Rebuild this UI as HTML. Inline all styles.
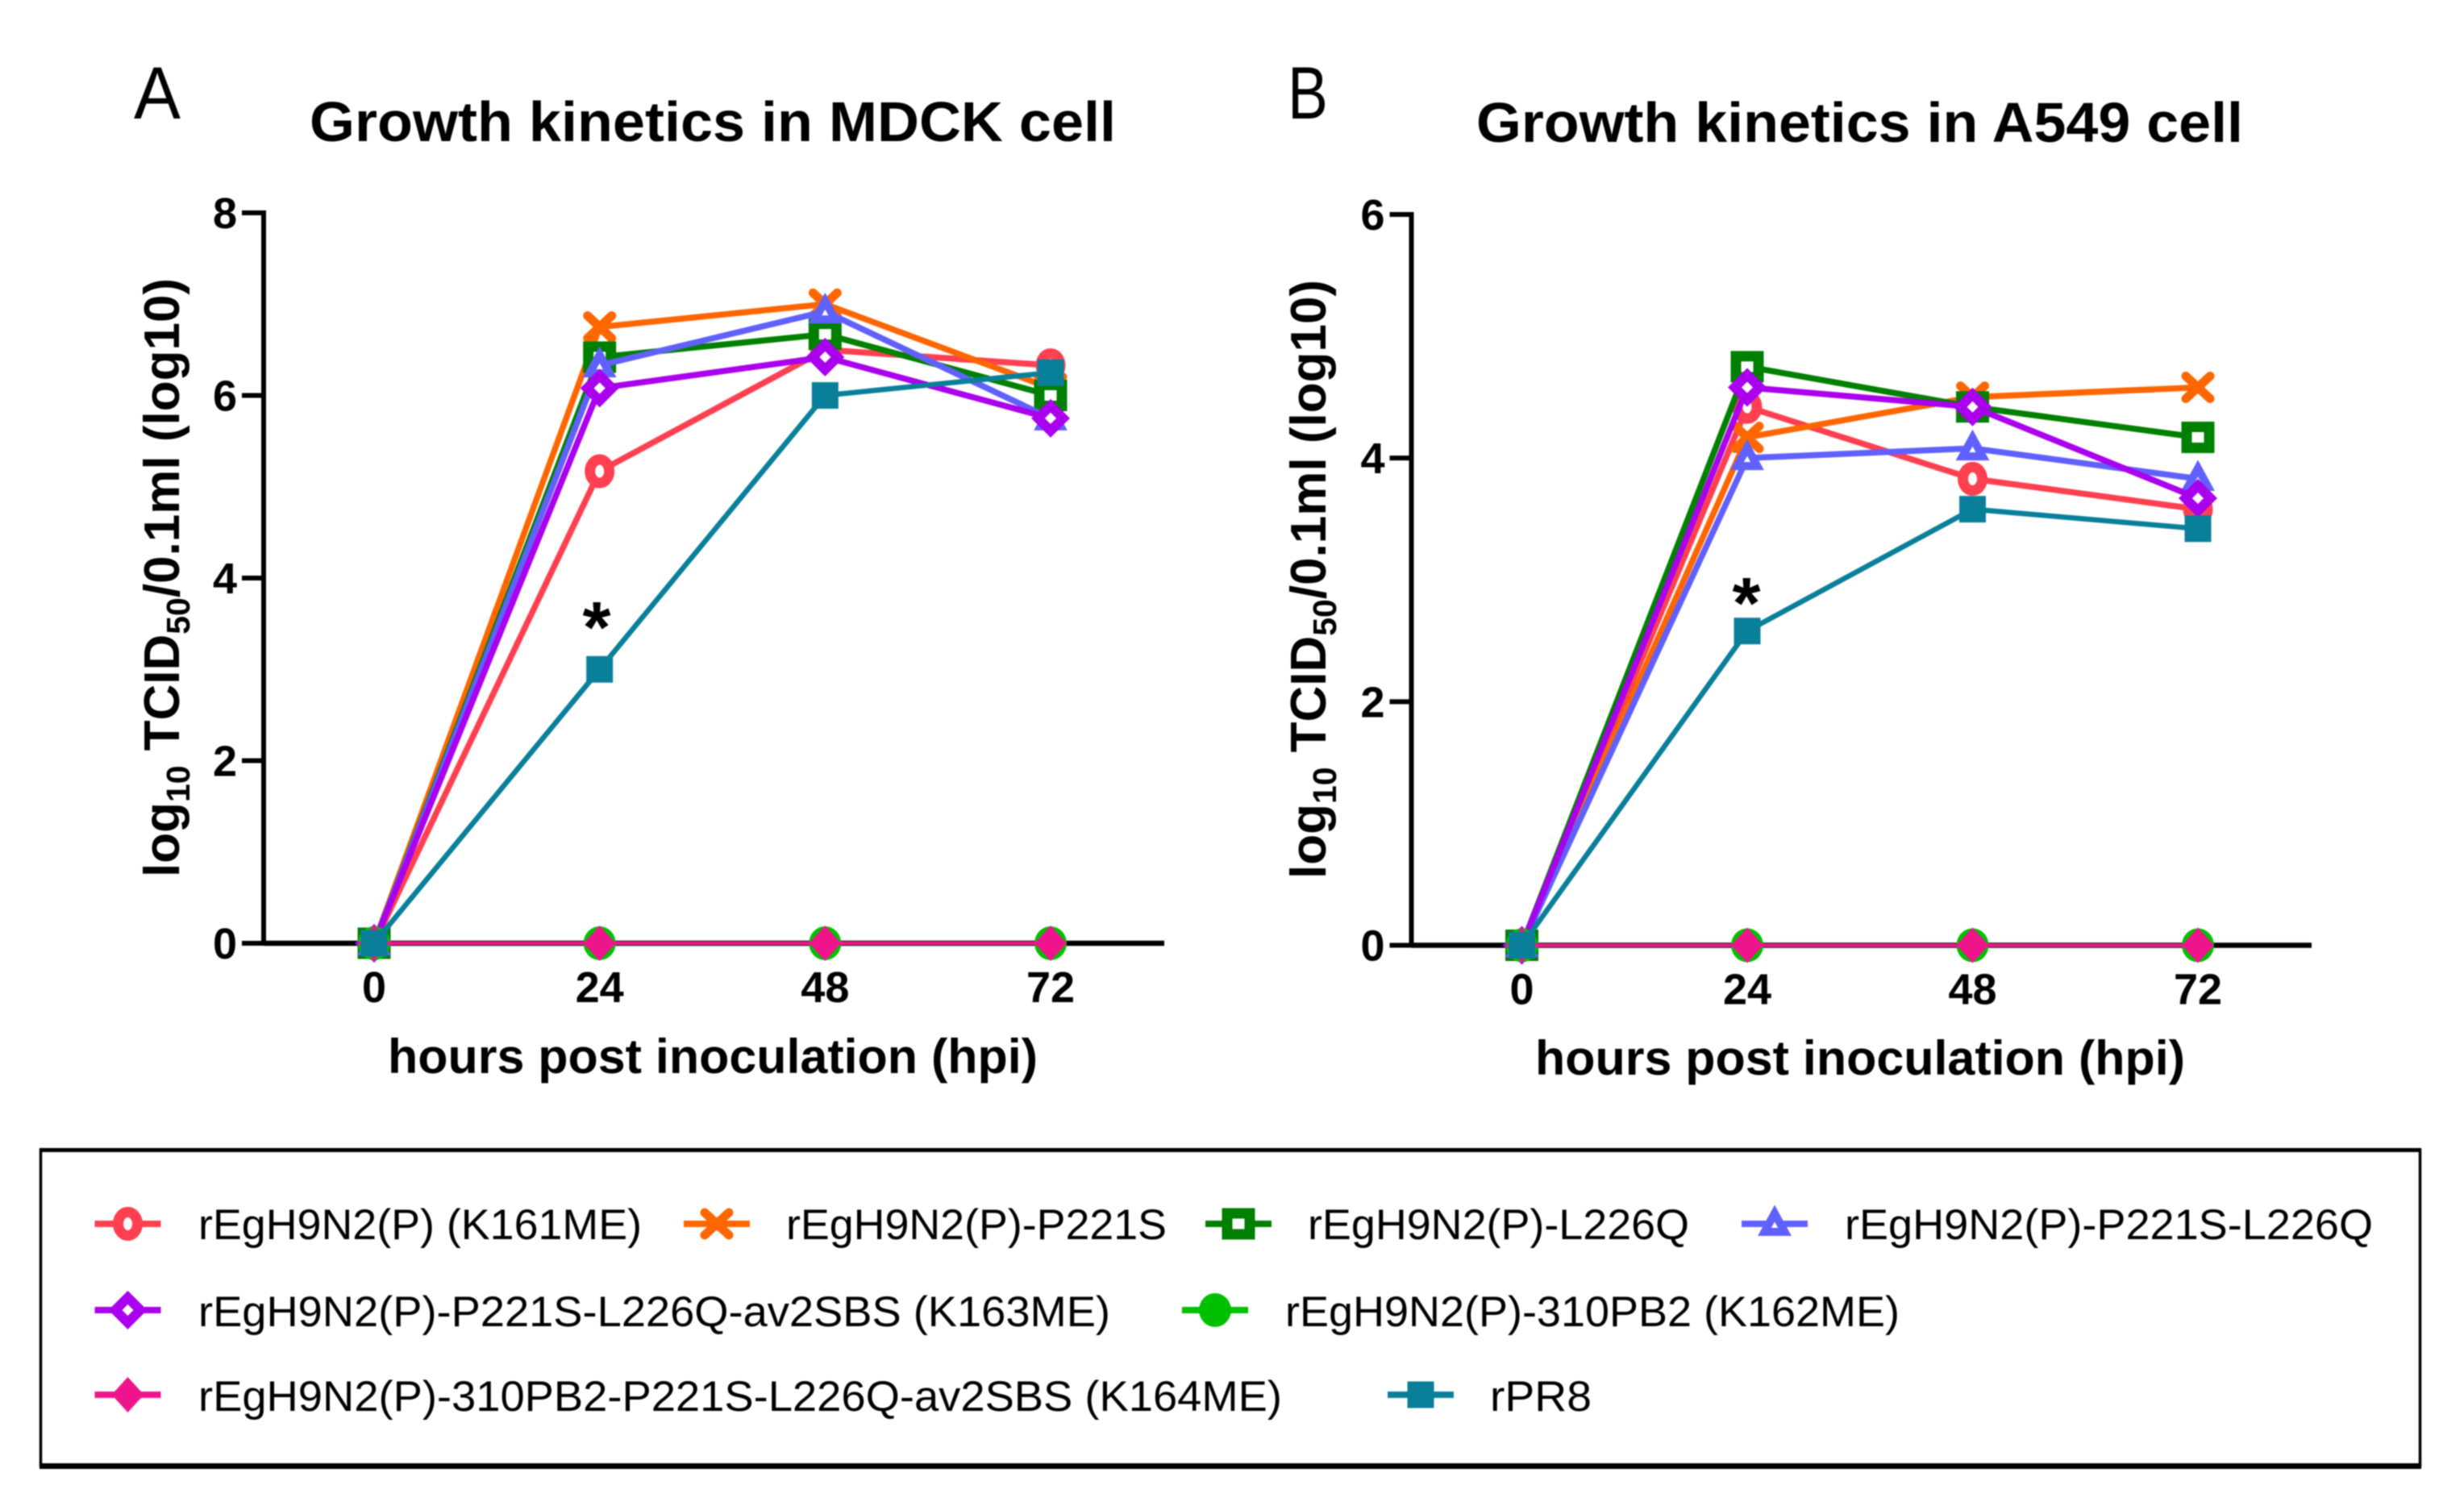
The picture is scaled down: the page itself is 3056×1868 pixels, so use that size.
<!DOCTYPE html>
<html lang="en">
<head>
<meta charset="utf-8">
<title>Growth kinetics</title>
<style>
html,body{margin:0;padding:0;background:#fff;width:3056px;height:1868px;overflow:hidden}
svg{position:absolute;left:0;top:0;filter:blur(.7px)}
text{font-family:"Liberation Sans",Arial,sans-serif;fill:#000}
.b{font-weight:bold}
</style>
</head>
<body>
<svg id="root" xmlns="http://www.w3.org/2000/svg" width="3056" height="1868" viewBox="0 0 3056 1868">
  <rect x="0" y="0" width="3056" height="1868" fill="#fff"/>

  <text x="166" y="147" font-size="92" textLength="58" lengthAdjust="spacingAndGlyphs">A</text>
  <text x="1597" y="147" font-size="92" textLength="50" lengthAdjust="spacingAndGlyphs">B</text>

  <text class="b" x="384" y="175" font-size="69.5" textLength="1000" lengthAdjust="spacingAndGlyphs">Growth kinetics in MDCK cell</text>
  <text class="b" x="1831" y="176" font-size="69.5" textLength="951" lengthAdjust="spacingAndGlyphs">Growth kinetics in A549 cell</text>

  <text class="b" transform="translate(222,1088) rotate(-90)" font-size="62">log<tspan font-size="41" dy="13">10</tspan><tspan dx="18" dy="-13">TCID</tspan><tspan font-size="41" dy="13">50</tspan><tspan dy="-13">/0.1ml (log10)</tspan></text>
  <text class="b" transform="translate(1644,1090) rotate(-90)" font-size="62">log<tspan font-size="41" dy="13">10</tspan><tspan dx="18" dy="-13">TCID</tspan><tspan font-size="41" dy="13">50</tspan><tspan dy="-13">/0.1ml (log10)</tspan></text>

  <text class="b" x="481" y="1331" font-size="60" textLength="806" lengthAdjust="spacingAndGlyphs">hours post inoculation (hpi)</text>
  <text class="b" x="1904" y="1333" font-size="60" textLength="806" lengthAdjust="spacingAndGlyphs">hours post inoculation (hpi)</text>

  <g id="panelA"></g>
  <g id="panelB"></g>

  <text class="b" x="740" y="809" font-size="90" text-anchor="middle">*</text>
  <text class="b" x="2166" y="779" font-size="90" text-anchor="middle">*</text>

  <g>
    <rect x="50.5" y="1426.5" width="2951" height="392" fill="none" stroke="#000" stroke-width="3.5"/>
    <line x1="49" x2="3003" y1="1426.5" y2="1426.5" stroke="#000" stroke-width="5"/>
    <line x1="49" x2="3003" y1="1818.5" y2="1818.5" stroke="#000" stroke-width="7"/>
    <g id="lg0"><text x="246" y="1537" font-size="53" textLength="550" lengthAdjust="spacingAndGlyphs">rEgH9N2(P) (K161ME)</text></g>
    <g id="lg1"><text x="975" y="1537" font-size="53" textLength="472" lengthAdjust="spacingAndGlyphs">rEgH9N2(P)-P221S</text></g>
    <g id="lg2"><text x="1622" y="1537" font-size="53" textLength="473" lengthAdjust="spacingAndGlyphs">rEgH9N2(P)-L226Q</text></g>
    <g id="lg3"><text x="2288" y="1537" font-size="53" textLength="655" lengthAdjust="spacingAndGlyphs">rEgH9N2(P)-P221S-L226Q</text></g>
    <g id="lg4"><text x="246" y="1645" font-size="53" textLength="1131" lengthAdjust="spacingAndGlyphs">rEgH9N2(P)-P221S-L226Q-av2SBS (K163ME)</text></g>
    <g id="lg5"><text x="1594" y="1645" font-size="53" textLength="762" lengthAdjust="spacingAndGlyphs">rEgH9N2(P)-310PB2 (K162ME)</text></g>
    <g id="lg6"><text x="246" y="1750" font-size="53" textLength="1344" lengthAdjust="spacingAndGlyphs">rEgH9N2(P)-310PB2-P221S-L226Q-av2SBS (K164ME)</text></g>
    <g id="lg7"><text x="1848" y="1750" font-size="53" textLength="126" lengthAdjust="spacingAndGlyphs">rPR8</text></g>
  </g>
</svg>
<script>
// ---- chart data ----
const hours = [0, 24, 48, 72];
const xTickLabels = ['0', '24', '48', '72'];
const yTicksMdck = [0, 2, 4, 6, 8];
const yTicksA549 = [0, 2, 4, 6];

const mdckK161 = [0, 5.17, 6.5, 6.33];
const mdckP221S = [0, 6.75, 7.0, 6.08];
const mdckL226Q = [0, 6.42, 6.67, 6.0];
const mdckP221SL226Q = [0, 6.33, 6.92, 5.75];
const mdckK163 = [0, 6.08, 6.42, 5.75];
const mdckK162 = [0, 0, 0, 0];
const mdckK164 = [0, 0, 0, 0];
const mdckPR8 = [0, 3.0, 6.0, 6.25];

const a549K161 = [0, 4.42, 3.83, 3.58];
const a549P221S = [0, 4.17, 4.5, 4.58];
const a549L226Q = [0, 4.75, 4.42, 4.17];
const a549P221SL226Q = [0, 4.0, 4.08, 3.83];
const a549K163 = [0, 4.58, 4.42, 3.67];
const a549K162 = [0, 0, 0, 0];
const a549K164 = [0, 0, 0, 0];
const a549PR8 = [0, 2.58, 3.58, 3.42];

const seriesKeys = ['k161me', 'p221s', 'l226q', 'p221s-l226q', 'k163me', 'k162me', 'k164me', 'rpr8'];

// ---- styling ----
const seriesColors = ['#FF4050', '#FF6600', '#008000', '#6060FF', '#AA00EE', '#00C000', '#F0148C', '#0A7F9A'];
const seriesMarkers = ['circle', 'cross', 'square', 'triangle', 'diamond', 'disc', 'solidDiamond', 'solidSquare'];
const seriesLineWidths = [7.5, 7.5, 7.5, 7.5, 7.5, 4.5, 4.5, 6.5];
const NS = 'http://www.w3.org/2000/svg';

function mk(tag, attrs) {
  const el = document.createElementNS(NS, tag);
  for (const k in attrs) el.setAttribute(k, attrs[k]);
  return el;
}

function drawMarker(parent, kind, color, cx, cy, name) {
  const g = mk('g', {transform: 'translate(' + cx + ',' + cy + ')'});
  
  
  if (kind === 'circle') {
    g.appendChild(mk('ellipse', {rx: 12, ry: 14.5, fill: '#fff', stroke: color, 'stroke-width': 13}));
  } else if (kind === 'cross') {
    g.appendChild(mk('path', {d: 'M-15,-14L15,14M15,-14L-15,14', fill: 'none', stroke: color, 'stroke-width': 11, 'stroke-linecap': 'round'}));
  } else if (kind === 'square') {
    g.appendChild(mk('rect', {x: -14, y: -13, width: 28, height: 26, fill: '#fff', stroke: color, 'stroke-width': 13}));
  } else if (kind === 'triangle') {
    g.appendChild(mk('polygon', {points: '0,-13 12.5,10 -12.5,10', fill: '#fff', stroke: color, 'stroke-width': 10}));
  } else if (kind === 'diamond') {
    g.appendChild(mk('polygon', {points: '0,-15.5 15.5,0 0,15.5 -15.5,0', fill: '#fff', stroke: color, 'stroke-width': 12}));
  } else if (kind === 'disc') {
    g.appendChild(mk('ellipse', {rx: 20, ry: 21, fill: color}));
  } else if (kind === 'solidDiamond') {
    g.appendChild(mk('polygon', {points: '0,-22 20,0 0,22 -20,0', fill: color}));
  } else {
    g.appendChild(mk('rect', {x: -16.5, y: -16.5, width: 33, height: 33, fill: color}));
  }
  parent.appendChild(g);
}

function drawPanel(panelId, prefix, x0, x72, yBase, yTop, yMax, yTicks, seriesValues) {
  const root = document.getElementById(panelId);
  const xScale = h => x0 + h * (x72 - x0) / hours[hours.length - 1];
  const yScale = v => yBase - v * (yBase - yTop) / yMax;
  const axisX = x0 - 137;
  const axisEnd = x72 + 141;

  const yAxis = mk('line', {x1: axisX, x2: axisX, y1: yTop - 3, y2: yBase + 3, stroke: '#000', 'stroke-width': 6});
  
  
  root.appendChild(yAxis);

  const xAxis = mk('line', {x1: axisX, x2: axisEnd, y1: yBase, y2: yBase, stroke: '#000', 'stroke-width': 6.5});
  
  
  root.appendChild(xAxis);

  yTicks.forEach(t => {
    const tick = mk('line', {x1: axisX - 27, x2: axisX, y1: yScale(t), y2: yScale(t), stroke: '#000', 'stroke-width': 6});
    
    
    root.appendChild(tick);
    const label = mk('text', {x: axisX - 33, y: yScale(t) + 19, 'font-size': 54, 'font-weight': 'bold', 'text-anchor': 'end'});
    label.textContent = String(t);
    
    
    root.appendChild(label);
  });

  hours.forEach((h, i) => {
    const label = mk('text', {x: xScale(h), y: yBase + 73, 'font-size': 54, 'font-weight': 'bold', 'text-anchor': 'middle'});
    label.textContent = xTickLabels[i];
    
    
    root.appendChild(label);
  });

  seriesValues.forEach((vals, s) => {
    const g = mk('g', {});
    
    
    const pts = vals.map((v, i) => xScale(hours[i]) + ',' + yScale(v)).join(' ');
    const line = mk('polyline', {points: pts, fill: 'none', stroke: seriesColors[s], 'stroke-width': seriesLineWidths[s], 'stroke-linejoin': 'round'});
    
    
    g.appendChild(line);
    vals.forEach((v, i) => {
      drawMarker(g, seriesMarkers[s], seriesColors[s], xScale(hours[i]), yScale(v), prefix + '-point-' + seriesKeys[s] + '-' + hours[i]);
    });
    root.appendChild(g);
  });
}

function drawLegendSymbol(index, cx, cy) {
  const g = document.getElementById('lg' + index);
  const line = mk('line', {x1: cx - 41, x2: cx + 41, y1: cy, y2: cy, stroke: seriesColors[index], 'stroke-width': 8});
  
  
  g.appendChild(line);
  drawMarker(g, seriesMarkers[index], seriesColors[index], cx, cy, 'legend-marker-' + seriesKeys[index]);
}

drawPanel('panelA', 'mdck', 464, 1303, 1170, 264, 8, yTicksMdck,
  [mdckK161, mdckP221S, mdckL226Q, mdckP221SL226Q, mdckK163, mdckK162, mdckK164, mdckPR8]);
drawPanel('panelB', 'a549', 1887.5, 2726, 1172.5, 266, 6, yTicksA549,
  [a549K161, a549P221S, a549L226Q, a549P221SL226Q, a549K163, a549K162, a549K164, a549PR8]);

drawLegendSymbol(0, 158.5, 1518);
drawLegendSymbol(1, 889, 1518);
drawLegendSymbol(2, 1536, 1518);
drawLegendSymbol(3, 2201, 1518);
drawLegendSymbol(4, 158.5, 1625);
drawLegendSymbol(5, 1507, 1625);
drawLegendSymbol(6, 158.5, 1730);
drawLegendSymbol(7, 1762, 1730);
</script>
</body>
</html>
